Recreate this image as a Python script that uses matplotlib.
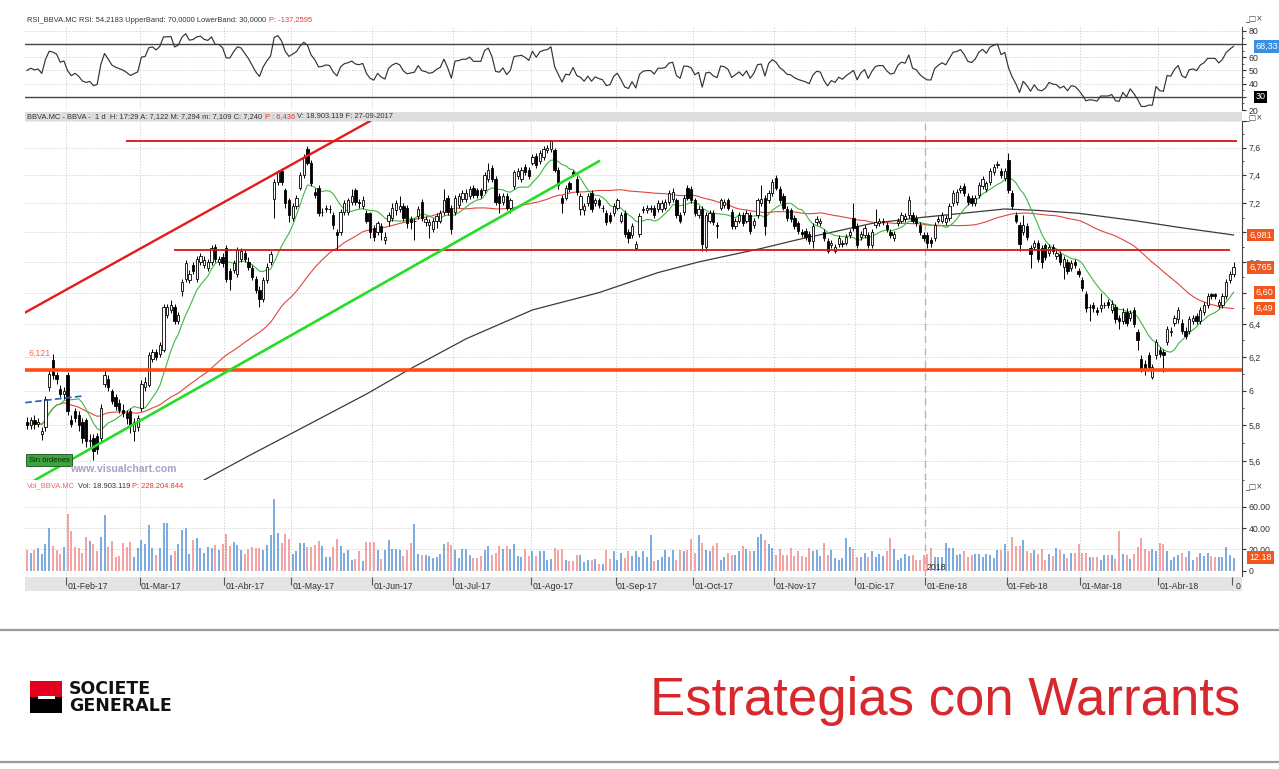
"""BBVA.MC daily candles (Jan 2017 - Apr 2018) with RSI and volume panels,
hand-drawn trend lines and the Societe Generale footer."""
import math

import matplotlib

matplotlib.use("Agg")
import matplotlib.pyplot as plt
import matplotlib.transforms as mtransforms
from matplotlib.patches import Rectangle
import numpy as np
import pandas as pd

W, H = 1279, 769

# ---- price data (one entry per trading day) --------------------------------
START, END = "2017-01-17", "2018-04-30"
HOLIDAYS = ["2017-04-14", "2017-04-17", "2017-05-01", "2017-12-25",
            "2017-12-26", "2018-01-01", "2018-03-30"]

OPEN = [
    5.82, 5.80, 5.83, 5.81, 5.75, 5.79, 6.02, 6.18, 6.09, 6.01,
    5.98, 6.09, 5.83, 5.88, 5.86, 5.82, 5.83, 5.71, 5.73, 5.74,
    5.73, 6.04, 6.07, 6.00, 5.96, 5.93, 5.89, 5.87, 5.88, 5.77,
    5.79, 5.90, 6.02, 6.03, 6.19, 6.23, 6.22, 6.24, 6.46, 6.49,
    6.51, 6.42, 6.61, 6.69, 6.68, 6.78, 6.69, 6.80, 6.78, 6.76,
    6.80, 6.90, 6.80, 6.83, 6.89, 6.74, 6.75, 6.72, 6.82, 6.86,
    6.80, 6.76, 6.69, 6.62, 6.56, 6.68, 6.80, 7.23, 7.35, 7.43,
    7.29, 7.22, 7.10, 7.18, 7.31, 7.40, 7.59, 7.49, 7.28, 7.31,
    7.14, 7.16, 7.16, 7.12, 7.00, 7.00, 7.14, 7.14, 7.21, 7.29,
    7.21, 7.18, 7.13, 7.13, 7.03, 7.00, 7.04, 6.95, 7.08, 7.10,
    7.15, 7.16, 7.18, 7.17, 7.09, 7.08, 7.11, 7.21, 7.07, 7.05,
    7.02, 7.08, 7.08, 7.14, 7.24, 7.17, 7.14, 7.19, 7.23, 7.23,
    7.25, 7.31, 7.29, 7.29, 7.29, 7.37, 7.45, 7.37, 7.25, 7.21,
    7.25, 7.17, 7.32, 7.39, 7.37, 7.46, 7.44, 7.49, 7.54, 7.50,
    7.53, 7.58, 7.59, 7.58, 7.44, 7.24, 7.24, 7.34, 7.42, 7.37,
    7.16, 7.15, 7.20, 7.27, 7.20, 7.22, 7.17, 7.13, 7.12, 7.13,
    7.17, 7.08, 7.13, 7.00, 6.98, 6.89, 6.99, 7.15, 7.15, 7.16,
    7.17, 7.16, 7.16, 7.17, 7.21, 7.23, 7.22, 7.12, 7.14, 7.31,
    7.30, 7.22, 7.12, 7.16, 6.90, 7.08, 7.13, 7.05, 7.17, 7.19,
    7.22, 7.14, 7.04, 7.08, 7.12, 7.08, 7.12, 7.05, 7.12, 7.20,
    7.24, 7.22, 7.27, 7.38, 7.30, 7.25, 7.16, 7.15, 7.10, 7.06,
    7.00, 7.01, 6.99, 6.94, 7.07, 7.06, 7.00, 6.94, 6.91, 6.87,
    6.92, 6.92, 6.93, 6.98, 7.10, 7.04, 6.97, 6.98, 6.98, 6.91,
    7.05, 7.06, 7.07, 7.05, 7.00, 6.96, 7.06, 7.08, 7.09, 7.12,
    7.12, 7.10, 7.05, 6.98, 6.98, 6.95, 6.96, 7.08, 7.08, 7.07,
    7.10, 7.20, 7.21, 7.29, 7.32, 7.25, 7.24, 7.20, 7.26, 7.32,
    7.30, 7.35, 7.42, 7.47, 7.43, 7.38, 7.51, 7.27, 7.12, 7.05,
    7.00, 7.04, 6.89, 6.90, 6.93, 6.89, 6.91, 6.86, 6.90, 6.84,
    6.85, 6.77, 6.80, 6.76, 6.80, 6.74, 6.68, 6.59, 6.51, 6.52,
    6.49, 6.50, 6.52, 6.54, 6.49, 6.51, 6.44, 6.42, 6.48, 6.44,
    6.49, 6.35, 6.19, 6.16, 6.21, 6.08, 6.21, 6.24, 6.23, 6.29,
    6.35, 6.41, 6.43, 6.41, 6.36, 6.36, 6.42, 6.45, 6.42, 6.48,
    6.52, 6.59, 6.59, 6.52, 6.52, 6.58, 6.68, 6.72,
]
HIGH = [
    5.85, 5.85, 5.86, 5.84, 5.79, 5.97, 6.12, 6.22, 6.11, 6.03,
    6.02, 6.11, 5.86, 5.90, 5.88, 5.84, 5.84, 5.75, 5.75, 5.76,
    5.92, 6.13, 6.09, 6.01, 5.98, 5.95, 5.92, 5.89, 5.90, 5.84,
    5.86, 6.06, 6.08, 6.23, 6.25, 6.25, 6.29, 6.53, 6.53, 6.55,
    6.53, 6.48, 6.69, 6.81, 6.75, 6.80, 6.84, 6.86, 6.84, 6.82,
    6.91, 6.92, 6.84, 6.86, 6.91, 6.76, 6.81, 6.90, 6.89, 6.88,
    6.83, 6.78, 6.71, 6.64, 6.70, 6.79, 6.87, 7.37, 7.44, 7.45,
    7.31, 7.24, 7.20, 7.26, 7.42, 7.55, 7.61, 7.51, 7.31, 7.33,
    7.17, 7.19, 7.19, 7.14, 7.02, 7.16, 7.22, 7.24, 7.30, 7.31,
    7.23, 7.25, 7.15, 7.14, 7.05, 7.08, 7.06, 7.00, 7.14, 7.20,
    7.22, 7.25, 7.20, 7.19, 7.11, 7.10, 7.18, 7.23, 7.11, 7.09,
    7.10, 7.13, 7.15, 7.30, 7.26, 7.19, 7.26, 7.27, 7.29, 7.30,
    7.32, 7.33, 7.31, 7.31, 7.42, 7.49, 7.47, 7.39, 7.27, 7.27,
    7.27, 7.24, 7.44, 7.45, 7.46, 7.48, 7.46, 7.55, 7.56, 7.58,
    7.61, 7.62, 7.66, 7.60, 7.46, 7.26, 7.33, 7.36, 7.44, 7.39,
    7.27, 7.20, 7.27, 7.29, 7.24, 7.24, 7.19, 7.15, 7.14, 7.20,
    7.24, 7.14, 7.15, 7.02, 7.06, 6.94, 7.13, 7.18, 7.19, 7.19,
    7.19, 7.22, 7.22, 7.23, 7.29, 7.31, 7.24, 7.14, 7.26, 7.33,
    7.32, 7.24, 7.18, 7.18, 7.14, 7.15, 7.15, 7.07, 7.24, 7.23,
    7.24, 7.16, 7.10, 7.14, 7.14, 7.15, 7.14, 7.10, 7.24, 7.33,
    7.26, 7.29, 7.37, 7.40, 7.32, 7.27, 7.18, 7.17, 7.12, 7.08,
    7.02, 7.03, 7.01, 7.06, 7.11, 7.10, 7.02, 6.96, 6.95, 6.92,
    6.98, 6.95, 6.99, 7.02, 7.20, 7.06, 7.01, 7.05, 7.00, 7.02,
    7.16, 7.10, 7.10, 7.07, 7.02, 7.01, 7.10, 7.14, 7.13, 7.25,
    7.14, 7.12, 7.07, 7.00, 7.00, 6.97, 7.07, 7.11, 7.14, 7.12,
    7.20, 7.29, 7.30, 7.33, 7.34, 7.27, 7.26, 7.26, 7.35, 7.39,
    7.36, 7.45, 7.48, 7.50, 7.45, 7.45, 7.56, 7.29, 7.14, 7.07,
    7.12, 7.06, 6.91, 6.95, 6.95, 6.91, 6.93, 6.92, 6.92, 6.88,
    6.87, 6.84, 6.82, 6.81, 6.82, 6.76, 6.70, 6.61, 6.53, 6.54,
    6.51, 6.60, 6.54, 6.56, 6.55, 6.53, 6.46, 6.50, 6.50, 6.49,
    6.51, 6.37, 6.21, 6.18, 6.23, 6.16, 6.31, 6.26, 6.25, 6.39,
    6.38, 6.46, 6.51, 6.43, 6.38, 6.45, 6.46, 6.47, 6.51, 6.54,
    6.60, 6.60, 6.60, 6.56, 6.60, 6.69, 6.74, 6.80,
]
LOW = [
    5.78, 5.78, 5.78, 5.79, 5.72, 5.77, 6.00, 6.07, 6.04, 5.96,
    5.95, 5.86, 5.79, 5.82, 5.77, 5.70, 5.68, 5.68, 5.61, 5.64,
    5.71, 6.02, 6.00, 5.92, 5.89, 5.87, 5.85, 5.81, 5.76, 5.71,
    5.77, 5.88, 6.00, 6.02, 6.17, 6.18, 6.20, 6.23, 6.44, 6.47,
    6.40, 6.40, 6.58, 6.67, 6.66, 6.72, 6.67, 6.78, 6.76, 6.74,
    6.78, 6.80, 6.78, 6.77, 6.67, 6.62, 6.73, 6.70, 6.80, 6.80,
    6.75, 6.68, 6.60, 6.51, 6.54, 6.66, 6.78, 7.10, 7.33, 7.33,
    7.17, 7.07, 7.08, 7.16, 7.29, 7.38, 7.47, 7.32, 7.24, 7.11,
    7.11, 7.14, 7.13, 7.02, 6.88, 6.98, 7.12, 7.12, 7.19, 7.19,
    7.17, 7.16, 7.06, 6.96, 6.94, 6.98, 6.95, 6.92, 7.04, 7.08,
    7.12, 7.14, 7.08, 7.03, 7.02, 6.95, 7.09, 7.08, 7.04, 6.96,
    7.00, 7.03, 7.06, 7.12, 7.12, 6.99, 7.12, 7.17, 7.21, 7.21,
    7.23, 7.24, 7.24, 7.24, 7.27, 7.35, 7.35, 7.19, 7.13, 7.19,
    7.15, 7.13, 7.30, 7.37, 7.35, 7.40, 7.37, 7.47, 7.45, 7.48,
    7.51, 7.56, 7.57, 7.42, 7.30, 7.13, 7.22, 7.28, 7.39, 7.26,
    7.12, 7.12, 7.18, 7.14, 7.18, 7.17, 7.14, 7.05, 7.06, 7.11,
    7.15, 7.06, 6.97, 6.93, 6.96, 6.88, 6.97, 7.13, 7.13, 7.14,
    7.10, 7.14, 7.14, 7.15, 7.19, 7.21, 7.10, 7.06, 7.12, 7.22,
    7.20, 7.11, 7.10, 6.87, 6.87, 7.06, 7.05, 6.96, 7.15, 7.17,
    7.15, 7.02, 7.02, 7.06, 7.04, 7.06, 6.99, 7.03, 7.10, 7.18,
    6.98, 7.20, 7.25, 7.29, 7.20, 7.15, 7.08, 7.07, 7.02, 6.99,
    6.97, 6.95, 6.92, 6.89, 7.05, 7.04, 6.94, 6.86, 6.89, 6.86,
    6.90, 6.90, 6.91, 6.96, 7.01, 6.89, 6.95, 6.96, 6.89, 6.89,
    7.03, 7.04, 7.05, 7.00, 6.96, 6.94, 7.04, 7.06, 7.07, 7.10,
    7.06, 7.04, 6.98, 6.94, 6.89, 6.90, 6.94, 7.06, 7.06, 7.05,
    7.08, 7.18, 7.19, 7.27, 7.25, 7.19, 7.18, 7.18, 7.24, 7.30,
    7.28, 7.33, 7.40, 7.45, 7.38, 7.36, 7.27, 7.16, 7.06, 6.87,
    6.98, 6.95, 6.76, 6.88, 6.80, 6.76, 6.81, 6.84, 6.85, 6.82,
    6.78, 6.69, 6.72, 6.74, 6.76, 6.70, 6.61, 6.48, 6.42, 6.48,
    6.46, 6.48, 6.50, 6.50, 6.47, 6.41, 6.37, 6.40, 6.39, 6.42,
    6.38, 6.24, 6.11, 6.09, 6.12, 6.07, 6.19, 6.20, 6.11, 6.27,
    6.33, 6.39, 6.41, 6.34, 6.31, 6.34, 6.40, 6.40, 6.40, 6.46,
    6.50, 6.56, 6.56, 6.50, 6.50, 6.56, 6.66, 6.70,
]
CLOSE = [
    5.80, 5.83, 5.81, 5.82, 5.77, 5.95, 6.10, 6.09, 6.07, 5.98,
    6.00, 5.88, 5.81, 5.84, 5.80, 5.73, 5.71, 5.72, 5.66, 5.67,
    5.90, 6.09, 6.02, 5.94, 5.91, 5.89, 5.87, 5.84, 5.80, 5.82,
    5.84, 6.04, 6.05, 6.21, 6.23, 6.20, 6.27, 6.51, 6.51, 6.52,
    6.42, 6.46, 6.67, 6.79, 6.72, 6.74, 6.82, 6.84, 6.81, 6.80,
    6.89, 6.82, 6.82, 6.79, 6.69, 6.69, 6.79, 6.88, 6.87, 6.82,
    6.77, 6.70, 6.62, 6.56, 6.68, 6.77, 6.85, 7.35, 7.42, 7.35,
    7.20, 7.12, 7.18, 7.24, 7.40, 7.53, 7.49, 7.34, 7.26, 7.13,
    7.14, 7.17, 7.16, 7.05, 6.98, 7.14, 7.20, 7.22, 7.25, 7.21,
    7.20, 7.22, 7.08, 7.00, 6.97, 7.06, 7.00, 6.97, 7.12, 7.17,
    7.20, 7.18, 7.10, 7.06, 7.07, 7.08, 7.16, 7.10, 7.09, 7.07,
    7.08, 7.11, 7.13, 7.22, 7.14, 7.02, 7.24, 7.25, 7.27, 7.27,
    7.30, 7.26, 7.26, 7.26, 7.40, 7.44, 7.37, 7.21, 7.20, 7.25,
    7.17, 7.22, 7.42, 7.43, 7.44, 7.42, 7.39, 7.53, 7.47, 7.56,
    7.59, 7.60, 7.65, 7.44, 7.33, 7.20, 7.31, 7.30, 7.41, 7.28,
    7.25, 7.18, 7.25, 7.16, 7.22, 7.19, 7.17, 7.07, 7.08, 7.18,
    7.22, 7.12, 6.99, 6.96, 7.04, 6.92, 7.11, 7.16, 7.17, 7.17,
    7.12, 7.20, 7.20, 7.21, 7.27, 7.28, 7.12, 7.08, 7.24, 7.24,
    7.22, 7.13, 7.16, 6.92, 7.12, 7.13, 7.07, 7.04, 7.22, 7.21,
    7.17, 7.04, 7.08, 7.12, 7.06, 7.13, 7.01, 7.08, 7.22, 7.23,
    7.04, 7.27, 7.35, 7.31, 7.22, 7.17, 7.10, 7.09, 7.04, 7.01,
    6.99, 6.97, 6.94, 7.04, 7.09, 7.08, 6.96, 6.87, 6.93, 6.90,
    6.96, 6.93, 6.97, 7.00, 7.03, 6.91, 6.99, 7.03, 6.91, 7.00,
    7.07, 7.08, 7.08, 7.02, 6.98, 6.99, 7.08, 7.12, 7.11, 7.22,
    7.08, 7.06, 7.00, 6.96, 6.93, 6.93, 7.05, 7.09, 7.12, 7.10,
    7.18, 7.27, 7.28, 7.31, 7.27, 7.21, 7.20, 7.24, 7.33, 7.37,
    7.34, 7.43, 7.46, 7.48, 7.40, 7.43, 7.29, 7.18, 7.08, 6.92,
    7.05, 6.97, 6.85, 6.93, 6.82, 6.80, 6.83, 6.90, 6.87, 6.86,
    6.80, 6.82, 6.74, 6.79, 6.78, 6.72, 6.63, 6.50, 6.51, 6.50,
    6.48, 6.52, 6.52, 6.52, 6.53, 6.43, 6.42, 6.48, 6.41, 6.47,
    6.40, 6.30, 6.13, 6.13, 6.14, 6.14, 6.29, 6.22, 6.21, 6.37,
    6.36, 6.44, 6.49, 6.36, 6.33, 6.43, 6.44, 6.42, 6.49, 6.52,
    6.58, 6.58, 6.58, 6.54, 6.58, 6.67, 6.72, 6.765,
]
# volume in millions of shares
VOLUME = [
    19, 17, 19, 21, 16, 25, 40, 23, 19, 16,
    22, 53, 37, 22, 21, 17, 32, 28, 25, 18,
    32, 52, 22, 28, 13, 14, 26, 22, 27, 13,
    21, 29, 25, 43, 21, 15, 21, 45, 45, 15,
    18, 25, 38, 40, 16, 29, 31, 21, 17, 22,
    21, 24, 19, 25, 34, 23, 27, 24, 19, 16,
    20, 22, 21, 21, 19, 24, 33, 67, 35, 26,
    34, 30, 16, 18, 26, 26, 22, 22, 24, 28,
    23, 13, 13, 22, 30, 23, 17, 19, 10, 11,
    18, 9, 27, 27, 27, 19, 11, 19, 29, 20,
    20, 19, 14, 19, 26, 44, 16, 15, 15, 14,
    12, 13, 16, 25, 27, 24, 19, 12, 20, 20,
    15, 12, 12, 14, 19, 23, 15, 17, 23, 20,
    23, 20, 25, 14, 13, 20, 14, 18, 14, 18,
    18, 10, 11, 21, 19, 20, 10, 9, 9, 15,
    15, 8, 10, 10, 11, 6, 6, 19, 11, 18,
    10, 17, 12, 18, 14, 18,
    13, 18, 13, 33, 9, 10, 13, 19, 13, 19,
    10, 19, 18, 19, 30, 17, 33, 26, 19, 18,
    23, 26, 10, 13, 17, 15, 15, 18, 23, 20,
    18, 18, 32, 34, 29, 25, 21, 15, 20, 15,
    15, 21, 14, 18, 14, 13, 21, 18, 19, 14,
    26, 15, 19, 12, 10, 12, 31, 22, 20, 13,
    13, 17, 13, 18, 13, 16, 14, 18, 31, 20,
    10, 12, 16, 14, 15, 10, 10, 15, 16, 21,
    13, 13, 13, 26, 21, 21, 15, 16, 18, 13,
    15, 16, 16, 13, 16, 15, 12, 19, 19, 25,
    18, 32, 23, 23, 29, 18, 17, 19, 16, 20,
    10, 16, 14, 21, 19, 16, 12, 17, 17, 25,
    17, 17, 13, 13, 13, 10, 15, 15, 15, 11,
    37, 16, 15, 11, 16, 22, 31, 20, 18, 20,
    18, 26, 25, 18, 10, 13, 15, 17, 13, 18,
    10, 13, 17, 14, 17, 14, 13, 13, 13, 22,
    15, 12.18,
]
# 200-session average, sampled (it needs history from before the chart)
SMA200_IDX = [48, 60, 74, 92, 104, 119, 137, 155, 171, 182, 199,
              209, 220, 229, 242, 265, 274, 285, 300, 313, 327]
SMA200_VAL = [5.50, 5.63, 5.78, 5.98, 6.13, 6.31, 6.49, 6.60, 6.73, 6.80, 6.89,
              6.95, 7.01, 7.06, 7.10, 7.16, 7.15, 7.13, 7.08, 7.03, 6.981]

# drawn studies: levels and trend lines (bar index, price)
LEVEL_TOP = (26.8, 328.0, 7.65)
LEVEL_MID = (39.8, 326.0, 6.88)
LEVEL_SUPPORT = (-0.55, 329.3, 6.121)
TREND_RED = ([-0.8, 93.0], [6.47, 7.80])
TREND_GREEN = ([2.2, 155.0], [5.50, 7.50])
TREND_BLUE = ([-0.5, 15.7], [5.93, 5.97])

MESES = ["Ene", "Feb", "Mar", "Abr", "May", "Jun",
         "Jul", "Ago", "Sep", "Oct", "Nov", "Dic"]


def px(x0, y0, x1, y1):
    """Pixel box (origin top-left) -> figure-fraction rect."""
    return [x0 / W, 1 - y1 / H, (x1 - x0) / W, (y1 - y0) / H]


def comma(v, nd):
    return f"{v:.{nd}f}".replace(".", ",")


def comma_trunc(v, nd):
    """Truncated (not rounded) value, as the platform's narrow tags show it."""
    f = 10 ** nd
    return comma(math.floor(v * f) / f, nd)


n = len(CLOSE)
dates = pd.bdate_range(START, END, freq="C", holidays=HOLIDAYS)
assert len(dates) == n == len(OPEN) == len(HIGH) == len(LOW) == len(VOLUME)
x = np.arange(n)
o, hi, lo, c = (np.asarray(a, dtype=float) for a in (OPEN, HIGH, LOW, CLOSE))
up = c >= o

close = pd.Series(c)
sma_fast = close.rolling(10, min_periods=1).mean()
sma_slow = close.rolling(50, min_periods=1).mean()

# Wilder RSI(14), seeded neutral so the first bars don't spike to 0/100
delta = close.diff()
seed = delta.abs().mean() / 2
gain = delta.clip(lower=0)
loss = -delta.clip(upper=0)
gain.iloc[0] = seed
loss.iloc[0] = seed
gain = gain.ewm(alpha=1 / 14, adjust=False).mean()
loss = loss.ewm(alpha=1 / 14, adjust=False).mean()
rsi = 100 - 100 / (1 + gain / loss)

starts = [i for i in range(1, n) if dates[i].month != dates[i - 1].month]
jan18 = next(s for s in starts if dates[s].year == 2018)
XL = (-0.55, 329.3)
SMALL = ["Liberation Sans", "DejaVu Sans"]
GRID = dict(color="#c9c9c9", lw=0.6, ls=(0, (1.5, 2.0)), zorder=0)
DARK = "#333333"
ORANGE = "#f0561e"

fig = plt.figure(figsize=(W / 100, H / 100), dpi=100)
fig.patch.set_facecolor("white")
ax_rsi = fig.add_axes(px(25, 27, 1242, 110))
ax = fig.add_axes(px(25, 121, 1242, 480))
ax_vol = fig.add_axes(px(25, 480, 1242, 576))
ax_date = fig.add_axes(px(25, 577, 1242, 591))

for a in (ax_rsi, ax, ax_vol, ax_date):
    a.set_xlim(*XL)
    a.set_xticks([])
    a.spines["top"].set_visible(False)
    a.spines["left"].set_visible(False)
    a.spines["right"].set_color("#444444")
    a.spines["bottom"].set_visible(False)
    a.yaxis.tick_right()
    a.tick_params(axis="y", which="both", labelsize=6.3, colors=DARK,
                  length=3, pad=2)
    a.tick_params(axis="y", which="minor", length=1.5)
    for s in starts:
        if a is not ax_date:
            a.axvline(s - 0.5, **GRID)


def value_tag(axis, v, text, fc, dx=1.006):
    tr = mtransforms.blended_transform_factory(axis.transAxes, axis.transData)
    axis.text(dx, v, text, transform=tr, ha="left", va="center", fontsize=6.5,
              color="white", family=SMALL, clip_on=False, zorder=6,
              bbox=dict(boxstyle="square,pad=0.2", fc=fc, ec="none"))


# ---- RSI panel ---------------------------------------------------------------
ax_rsi.set_ylim(20, 83)
ax_rsi.set_yticks([20, 30, 40, 50, 60, 70, 80])
ax_rsi.set_yticks(np.arange(20, 85, 5), minor=True)
# 70 and 30 sit under the value tags
ax_rsi.set_yticklabels(["20", "", "40", "50", "60", "", "80"], family=SMALL)
for g in (40, 50, 60, 80):
    ax_rsi.axhline(g, **GRID)
ax_rsi.axhline(70, color="#444444", lw=1.0)
ax_rsi.axhline(30, color="#444444", lw=1.0)
ax_rsi.plot(x, rsi, color="#333333", lw=0.85)
value_tag(ax_rsi, rsi.iloc[-1], comma(rsi.iloc[-1], 2), "#3b8fe3", dx=1.011)
value_tag(ax_rsi, 30, "30", "black", dx=1.011)

# ---- price panel -------------------------------------------------------------
ax.set_yscale("log")
ax.set_ylim(5.50, 7.80)
major = [5.6, 5.8, 6.0, 6.2, 6.4, 6.6, 6.8, 7.0, 7.2, 7.4, 7.6, 7.8]
hidden = (6.6, 7.0, 7.8)  # under the average tags / the window buttons
ax.set_yticks(major)
ax.set_yticklabels(["" if v in hidden else f"{v:g}".replace(".", ",")
                    for v in major], family=SMALL)
ax.set_yticks(np.arange(5.5, 7.85, 0.1), minor=True)
ax.yaxis.set_minor_formatter(plt.NullFormatter())
ax.spines["bottom"].set_visible(True)
ax.spines["bottom"].set_color("#555555")
for g in major:
    ax.axhline(g, **GRID)
ax.axvline(jan18 - 0.5, color="#b5b5b5", lw=1.0, ls=(0, (5, 4)), zorder=0)

ax.plot(SMA200_IDX, SMA200_VAL, color="#3a3a3a", lw=0.9, zorder=2)
ax.plot(x, sma_slow, color="#e2453f", lw=0.8, zorder=2)
ax.plot(x, sma_fast, color="#3fb83f", lw=0.8, zorder=2)

ax.vlines(x, lo, hi, color="black", lw=0.7, zorder=3)
ax.bar(x, np.abs(c - o), bottom=np.minimum(o, c), width=0.62,
       color=np.where(up, "white", "black"), edgecolor="black",
       linewidth=0.6, zorder=4)

ax.hlines(LEVEL_TOP[2], LEVEL_TOP[0], LEVEL_TOP[1], color="#d91414", lw=1.3, zorder=5)
ax.hlines(LEVEL_MID[2], LEVEL_MID[0], LEVEL_MID[1], color="#d91414", lw=1.3, zorder=5)
ax.hlines(LEVEL_SUPPORT[2], LEVEL_SUPPORT[0], LEVEL_SUPPORT[1], color="#ff4b14",
          lw=2.6, zorder=5)
ax.plot(*TREND_RED, color="#e31b1b", lw=1.7, zorder=5)
ax.plot(*TREND_GREEN, color="#25dd25", lw=1.9, zorder=5)
ax.plot(*TREND_BLUE, color="#1d5fc2", lw=1.2, ls=(0, (4, 2)), zorder=5)
ax.text(0.5, LEVEL_SUPPORT[2] * 1.012, comma(LEVEL_SUPPORT[2], 3),
        color="#ff6a3c", fontsize=6.3, family=SMALL, va="bottom", zorder=6)

ax.text(0.003, 0.055, "Sin órdenes", transform=ax.transAxes, fontsize=5.5,
        family=SMALL, color="#102010", va="center", zorder=6,
        bbox=dict(boxstyle="square,pad=0.3", fc="#3aa53a", ec="#1d4d1d", lw=0.6))
ax.text(0.037, 0.03, "www.visualchart.com", transform=ax.transAxes,
        fontsize=7.5, fontweight="bold", color="#a3a3c9", va="center",
        family=SMALL, zorder=6)

value_tag(ax, SMA200_VAL[-1], comma(SMA200_VAL[-1], 3), ORANGE)
value_tag(ax, c[-1], comma(c[-1], 3), ORANGE)
value_tag(ax, sma_fast.iloc[-1], comma_trunc(sma_fast.iloc[-1], 2), ORANGE, dx=1.011)
value_tag(ax, sma_slow.iloc[-1], comma_trunc(sma_slow.iloc[-1], 2), ORANGE, dx=1.011)

# ---- volume panel ------------------------------------------------------------
ax_vol.set_ylim(-5, 85)
ax_vol.set_yticks([0, 20, 40, 60])
ax_vol.set_yticklabels(["0", "20.00", "40.00", "60.00"], family=SMALL)
for g in (20, 40, 60):
    ax_vol.axhline(g, **GRID)
ax_vol.axvline(jan18 - 0.5, color="#b5b5b5", lw=1.0, ls=(0, (5, 4)), zorder=0)
ax_vol.vlines(x, 0, VOLUME, colors=np.where(up, "#6fa4de", "#f29b9b"), lw=1.3)
value_tag(ax_vol, VOLUME[-1], f"{VOLUME[-1]:.2f}", ORANGE)
ax_vol.text(jan18 - 0.2, -1, str(dates[jan18].year), fontsize=6.3,
            family=SMALL, color=DARK, va="bottom")

# ---- date strip --------------------------------------------------------------
ax_date.set_facecolor("#e4e4e4")
ax_date.set_ylim(0, 1)
ax_date.set_yticks([])
ax_date.spines["right"].set_visible(False)
for s in starts + [n - 1]:
    ax_date.vlines(s - 0.5, 0.45, 1.0, color="#555555", lw=0.8)
for s in starts:
    d = dates[s]
    ax_date.text(s - 0.1, 0.32, f"01-{MESES[d.month - 1]}-{d:%y}", fontsize=6.3,
                 family=SMALL, color=DARK, va="center", ha="left")
ax_date.text(n - 0.4, 0.32, "0", fontsize=6.3, family=SMALL, color=DARK,
             va="center", ha="left")

# ---- panel headers -----------------------------------------------------------
fig.add_artist(Rectangle((25 / W, 1 - 121 / H), (1242 - 25) / W, 9 / H,
                         transform=fig.transFigure, fc="#dddddd", ec="none"))
renderer = fig.canvas.get_renderer()


def run_text(x0, y0, parts, size=5.4):
    xx = x0
    for s, col in parts:
        t = fig.text(xx / W, 1 - y0 / H, s, color=col, fontsize=size,
                     family=SMALL, va="center", ha="left")
        xx = t.get_window_extent(renderer).x1 + 2.5


RED_TXT = "#e53935"
run_text(27, 20, [("RSI_BBVA.MC RSI: 54,2183 UpperBand: 70,0000 LowerBand: 30,0000", DARK),
                  ("P: -137,2595", RED_TXT)])
run_text(27, 116.5, [("BBVA.MC - BBVA -  1 d  H: 17:29 A: 7,122 M: 7,294 m: 7,109 C: 7,240", DARK),
                     ("P : 6,436", RED_TXT),
                     ("V: 18.903.119 F: 27-09-2017", DARK)])
run_text(27, 486, [("Vol_BBVA.MC", "#ea6a6a"), ("Vol: 18.903.119", DARK),
                   ("P: 228.204.844", RED_TXT)])
for yy in (19, 117.5, 487):
    fig.text(1245 / W, 1 - yy / H, "_□×", fontsize=5.5, color="#444444",
             va="center", ha="left")

# ---- footer ------------------------------------------------------------------
for yy in (630, 762):
    fig.add_artist(plt.Line2D([0, 1], [1 - yy / H] * 2, color="#9a9a9a", lw=1.6,
                              transform=fig.transFigure))
fig.add_artist(Rectangle((30 / W, 1 - 697 / H), 32 / W, 16 / H,
                         transform=fig.transFigure, fc="#e6001f", ec="none"))
fig.add_artist(Rectangle((30 / W, 1 - 713 / H), 32 / W, 16 / H,
                         transform=fig.transFigure, fc="black", ec="none"))
fig.add_artist(Rectangle((38 / W, 1 - 698.5 / H), 17 / W, 3 / H,
                         transform=fig.transFigure, fc="white", ec="none"))
fig.text(69 / W, 1 - 689 / H, "SOCIETE", fontsize=12.5, fontweight="bold",
         color="#111111", va="center", ha="left")
fig.text(69 / W, 1 - 706 / H, "GENERALE", fontsize=12.5, fontweight="bold",
         color="#111111", va="center", ha="left")
fig.text(1240 / W, 1 - 715 / H, "Estrategias con Warrants", fontsize=38,
         family=["Liberation Sans", "DejaVu Sans"], color="#d7282d",
         va="baseline", ha="right")

fig.savefig("out.png", dpi=100, facecolor="white")
